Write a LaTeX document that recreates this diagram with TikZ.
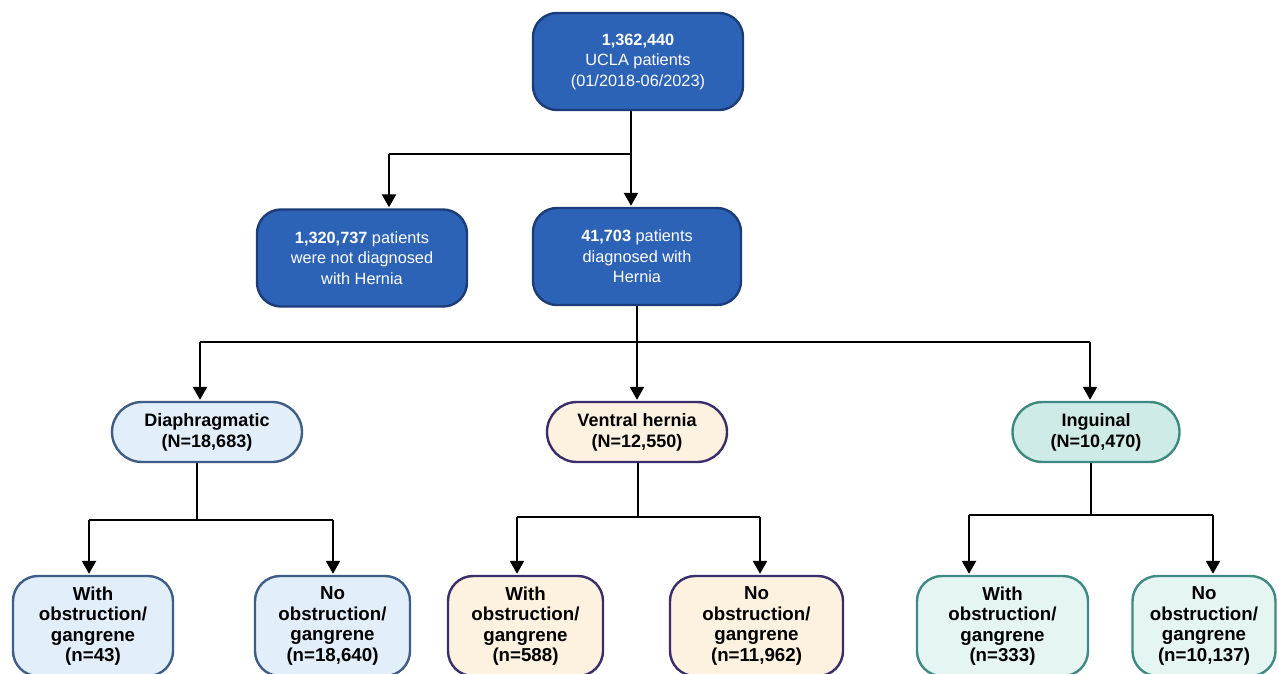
\documentclass[tikz,border=0pt]{standalone}
\usepackage{fontspec}
\setmainfont{Liberation Sans}
\usetikzlibrary{arrows.meta}
\definecolor{topfill}{HTML}{2D63B6}
\definecolor{topborder}{HTML}{1B3C78}
\definecolor{dfill}{HTML}{E3EEFB}
\definecolor{dborder}{HTML}{3F5E85}
\definecolor{vfill}{HTML}{FDF2E0}
\definecolor{vborder}{HTML}{3B2C6B}
\definecolor{ifill}{HTML}{CFEBE7}
\definecolor{iborder}{HTML}{3F8A80}
\definecolor{ifilllight}{HTML}{E5F5F2}
\tikzset{
  conn/.style={line width=2.4pt, draw=black},
  arr/.style={conn, -{Triangle[width=14pt,length=13pt]}, shorten >=1pt},
  boxbase/.style={rectangle, align=center, inner sep=0pt, line width=2.4pt},
  topbox/.style={boxbase, draw=topborder, fill=topfill, text=white, rounded corners=24pt,
    font=\fontsize{16.3}{20.5}\selectfont, minimum height=97pt},
  midbox/.style={boxbase, rounded corners=30pt, minimum height=60pt,
    font=\bfseries\fontsize{18}{21}\selectfont},
  botbox/.style={boxbase, rounded corners=25pt, minimum height=100pt,
    font=\bfseries\fontsize{18.7}{20.5}\selectfont},
  dstyle/.style={draw=dborder, fill=dfill},
  vstyle/.style={draw=vborder, fill=vfill},
  istyle/.style={draw=iborder, fill=ifill},
  ilstyle/.style={draw=iborder, fill=ifilllight},
}
\begin{document}
\begin{tikzpicture}[x=1pt,y=-1pt]
\clip (0,0) rectangle (1279,674);
\fill[white] (0,0) rectangle (1279,674);

% level 0
\node[topbox, minimum width=210pt] (top) at (638,61.5) {\textbf{1,362,440}\\UCLA patients\\(01/2018-06/2023)};
% level 1
\node[topbox, minimum width=210pt] (b2) at (362,258) {\textbf{1,320,737} patients\\were not diagnosed\\with Hernia};
\node[topbox, minimum width=208pt] (b3) at (637,256.5) {\textbf{41,703} patients\\diagnosed with\\Hernia};
% level 2
\node[midbox, dstyle, minimum width=190pt] (dia) at (207,432) {Diaphragmatic\\(N=18,683)};
\node[midbox, vstyle, minimum width=180pt] (ven) at (637,432) {Ventral hernia\\(N=12,550)};
\node[midbox, istyle, minimum width=167pt] (ing) at (1096,432) {Inguinal\\(N=10,470)};
% level 3
\node[botbox, dstyle, minimum width=160pt] (dw) at (93,626) {With\\obstruction/\\gangrene\\(n=43)};
\node[botbox, dstyle, minimum width=155pt] (dn) at (332.5,626) {No\\obstruction/\\gangrene\\(n=18,640)};
\node[botbox, vstyle, minimum width=155pt] (vw) at (525.5,626) {With\\obstruction/\\gangrene\\(n=588)};
\node[botbox, vstyle, minimum width=173pt] (vn) at (756.5,626) {No\\obstruction/\\gangrene\\(n=11,962)};
\node[botbox, ilstyle, minimum width=171pt] (iw) at (1002.5,626) {With\\obstruction/\\gangrene\\(n=333)};
\node[botbox, ilstyle, minimum width=143pt] (in) at (1204,626) {No\\obstruction/\\gangrene\\(n=10,137)};

% connectors level 0 -> 1
\coordinate (j1) at (631,154);
\coordinate (j1l) at (389,154);
\draw[conn] (top.south -| j1) -- (j1) -- (j1l);
\draw[arr] (j1l) -- (j1l |- b2.north);
\draw[arr] (j1) -- (j1 |- b3.north);

% connectors level 1 -> 2
\coordinate (j2) at (637,342);
\coordinate (j2l) at (200,342);
\coordinate (j2r) at (1090,342);
\draw[conn] (b3.south) -- (j2);
\draw[conn] (j2l) -- (j2r);
\draw[arr] (j2l) -- (j2l |- dia.north);
\draw[arr] (j2) -- (ven.north);
\draw[arr] (j2r) -- (j2r |- ing.north);

% connectors level 2 -> 3 (diaphragmatic)
\coordinate (dj) at (197,520);
\coordinate (djl) at (89,520);
\coordinate (djr) at (333,520);
\draw[conn] (dia.south -| dj) -- (dj);
\draw[conn] (djl) -- (djr);
\draw[arr] (djl) -- (djl |- dw.north);
\draw[arr] (djr) -- (djr |- dn.north);

% ventral
\coordinate (vj) at (638,517);
\coordinate (vjl) at (517,517);
\coordinate (vjr) at (760,517);
\draw[conn] (ven.south -| vj) -- (vj);
\draw[conn] (vjl) -- (vjr);
\draw[arr] (vjl) -- (vjl |- vw.north);
\draw[arr] (vjr) -- (vjr |- vn.north);

% inguinal
\coordinate (ij) at (1091,515);
\coordinate (ijl) at (969,515);
\coordinate (ijr) at (1213,515);
\draw[conn] (ing.south -| ij) -- (ij);
\draw[conn] (ijl) -- (ijr);
\draw[arr] (ijl) -- (ijl |- iw.north);
\draw[arr] (ijr) -- (ijr |- in.north);
\end{tikzpicture}
\end{document}
